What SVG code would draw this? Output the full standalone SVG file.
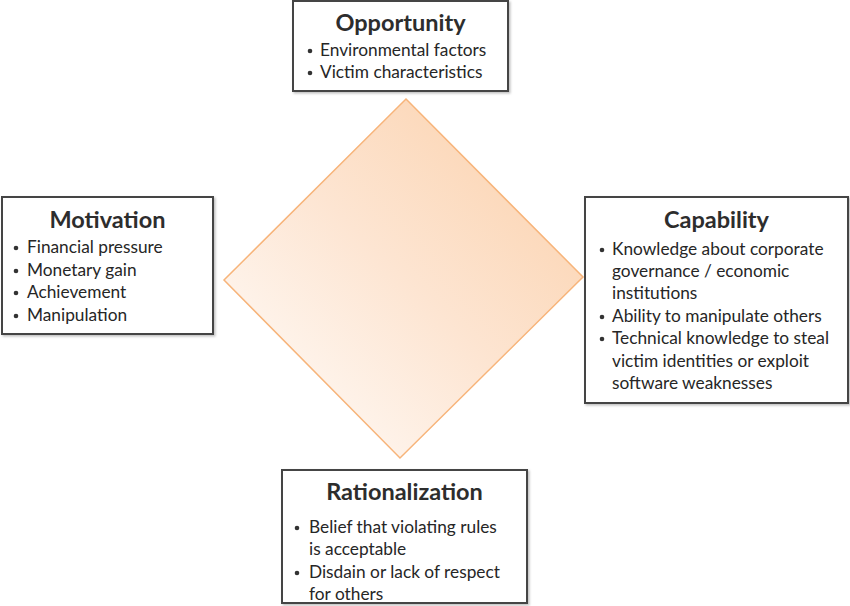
<svg xmlns="http://www.w3.org/2000/svg" width="850" height="606" viewBox="0 0 850 606">
<defs>
<linearGradient id="dg" x1="1" y1="0" x2="0" y2="1">
<stop offset="0" stop-color="#FBCFA8"/>
<stop offset="0.5" stop-color="#FDE5D2"/>
<stop offset="1" stop-color="#FFFFFF"/>
</linearGradient>
<filter id="sh" x="-5%" y="-5%" width="110%" height="110%">
<feDropShadow dx="1.5" dy="1.5" stdDeviation="1" flood-color="#000" flood-opacity="0.25"/>
</filter>
</defs>
<style>
.box{fill:#fff;stroke:#444;stroke-width:2;filter:url(#sh)}
.t{font-family:Lato,"Open Sans",sans-serif;font-weight:bold;font-size:23.5px;fill:#2d2d2d;text-anchor:middle}
.b{font-family:Lato,"Open Sans",sans-serif;font-size:17.3px;fill:#262626}
.d{fill:#333}
</style>
<rect width="850" height="606" fill="#fff"/>
<g id="connectors"></g>
<g id="diamond">
<polygon points="406,99 583,277 400,458 224,280" fill="url(#dg)" stroke="#F7B47A" stroke-width="1.5"/>
</g>
<g id="opportunity">
<rect class="box" x="293" y="1" width="215" height="90"/>
<text class="t" x="400.5" y="31">Opportunity</text>
<circle class="d" cx="310" cy="51" r="2.3"/>
<text class="b" x="320" y="56">Environmental factors</text>
<circle class="d" cx="310" cy="73" r="2.3"/>
<text class="b" x="320" y="78">Victim characteristics</text>
</g>
<g id="motivation">
<rect class="box" x="2" y="197" width="211" height="137"/>
<text class="t" x="107.5" y="228">Motivation</text>
<circle class="d" cx="16" cy="248" r="2.3"/>
<text class="b" x="27" y="253">Financial pressure</text>
<circle class="d" cx="16" cy="271" r="2.3"/>
<text class="b" x="27" y="276">Monetary gain</text>
<circle class="d" cx="16" cy="293" r="2.3"/>
<text class="b" x="27" y="298">Achievement</text>
<circle class="d" cx="16" cy="316" r="2.3"/>
<text class="b" x="27" y="321">Manipulation</text>
</g>
<g id="capability">
<rect class="box" x="585" y="197" width="263" height="206"/>
<text class="t" x="716.5" y="228">Capability</text>
<circle class="d" cx="602" cy="250" r="2.3"/>
<text class="b" x="612" y="255">Knowledge about corporate</text>
<text class="b" x="612" y="277">governance / economic</text>
<text class="b" x="612" y="299">institutions</text>
<circle class="d" cx="602" cy="317" r="2.3"/>
<text class="b" x="612" y="322">Ability to manipulate others</text>
<circle class="d" cx="602" cy="339" r="2.3"/>
<text class="b" x="612" y="344">Technical knowledge to steal</text>
<text class="b" x="612" y="367">victim identities or exploit</text>
<text class="b" x="612" y="389">software weaknesses</text>
</g>
<g id="rationalization">
<rect class="box" x="282" y="470" width="245" height="133"/>
<text class="t" x="404.5" y="500">Rationalization</text>
<circle class="d" cx="297" cy="528" r="2.3"/>
<text class="b" x="309" y="533">Belief that violating rules</text>
<text class="b" x="309" y="555">is acceptable</text>
<circle class="d" cx="297" cy="573" r="2.3"/>
<text class="b" x="309" y="578">Disdain or lack of respect</text>
<text class="b" x="309" y="600">for others</text>
</g>
</svg>
